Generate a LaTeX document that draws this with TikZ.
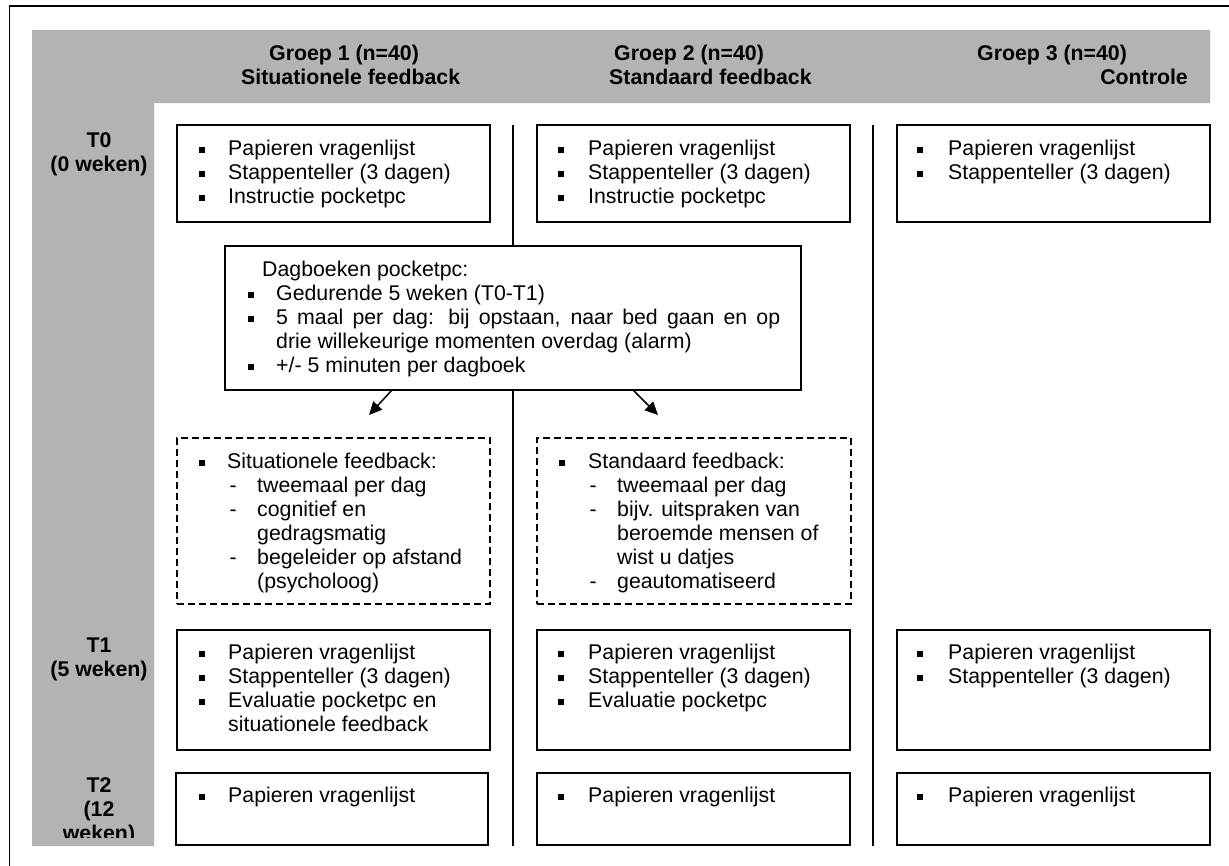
\documentclass[tikz,border=0pt]{standalone}
\usepackage{fontspec}
\setmainfont{Liberation Sans}
\usetikzlibrary{arrows.meta}
\definecolor{hdrgray}{RGB}{179,179,179}
\newcommand{\bulw}[1]{\makebox[#1][l]{\hspace{-0.5pt}\rule[2.5pt]{6pt}{6pt}}}
\newcommand{\dashw}[1]{\makebox[#1][l]{-}}
\tikzset{
  box/.style={draw=black, line width=1.8pt, fill=white, anchor=north west, inner sep=0pt, outer sep=0pt},
  dbox/.style={box, dash pattern=on 7pt off 4pt, line width=1.5pt},
  txt/.style={anchor=base west, inner sep=0pt, font=\fontsize{21.3}{24}\selectfont},
  hdr/.style={anchor=base west, inner sep=0pt, font=\bfseries\fontsize{21.3}{24}\selectfont},
  lbl/.style={anchor=base, inner sep=0pt, font=\bfseries\fontsize{21.3}{24}\selectfont},
  divider/.style={line width=1.8pt},
  arr/.style={line width=1.5pt, -{Triangle[length=13pt,width=12pt]}},
}
\begin{document}
\begin{tikzpicture}[x=1pt,y=-1pt]
\useasboundingbox (0,0) rectangle (1229,865);
% outer frame
\draw[line width=1.8pt] (9.5,880) -- (9.5,6) -- (1240,6);
% gray header band and time column
\fill[hdrgray] (32,30) -- (1210,30) -- (1210,103) -- (154,103) -- (154,846) -- (32,846) -- cycle;
% header texts
\node[hdr] (h1a) at (269,60) {Groep 1 (n=40)};
\node[hdr] (h1b) at (241,84) {Situationele feedback};
\node[hdr] (h2a) at (614,60) {Groep 2 (n=40)};
\node[hdr] (h2b) at (609,84) {Standaard feedback};
\node[hdr] (h3a) at (977,60) {Groep 3 (n=40)};
\node[hdr, anchor=base east] (h3b) at (1188,84) {Controle};
% row labels
\node[lbl] (r0) at (99,147) {\parbox[t]{120pt}{\centering T0\\(0 weken)}};
\node[lbl] (r1) at (99,652) {\parbox[t]{120pt}{\centering T1\\(5 weken)}};
\begin{scope}
  \clip (32,760) rectangle (154,837);
  \node[lbl] (r2) at (99,792) {\parbox[t]{120pt}{\centering T2\\(12\\weken)}};
\end{scope}
% column dividers
\draw[divider] (513,125) -- (513,846);
\draw[divider] (873,125) -- (873,846);
% T0 row
\node[box, minimum width=313pt, minimum height=97pt] (g1t0) at (177,125) {};
\node[box, minimum width=313pt, minimum height=97pt] (g2t0) at (537,125) {};
\node[box, minimum width=313pt, minimum height=97pt] (g3t0) at (897,125) {};
\node[txt] (x1t0) at (199.5,155) {\parbox[t]{300pt}{\bulw{28.5pt}Papieren vragenlijst\\\bulw{28.5pt}Stappenteller (3 dagen)\\\bulw{28.5pt}Instructie pocketpc}};
\node[txt] (x2t0) at (558.5,155) {\parbox[t]{300pt}{\bulw{29.5pt}Papieren vragenlijst\\\bulw{29.5pt}Stappenteller (3 dagen)\\\bulw{29.5pt}Instructie pocketpc}};
\node[txt] (x3t0) at (917.5,155) {\parbox[t]{300pt}{\bulw{30.5pt}Papieren vragenlijst\\\bulw{30.5pt}Stappenteller (3 dagen)}};
% diary box
\node[box, minimum width=576pt, minimum height=144pt] (dag) at (225,246) {};
\node[txt] (xdag) at (248.5,276) {\parbox[t]{545pt}{\hspace*{13.5pt}Dagboeken pocketpc:\\
\bulw{27.5pt}Gedurende 5 weken (T0-T1)\\
\bulw{27.5pt}\makebox[504pt][s]{5 maal per dag: bij opstaan, naar bed gaan en op}\\
\hspace*{27.5pt}drie willekeurige momenten overdag (alarm)\\
\bulw{27.5pt}+/- 5 minuten per dagboek}};
% arrows
\coordinate (a1s) at (392,390);
\coordinate (a1e) at (369,415);
\coordinate (a2s) at (633,390);
\coordinate (a2e) at (658,415);
\draw[arr] (a1s) -- (a1e);
\draw[arr] (a2s) -- (a2e);
% dashed feedback boxes
\node[dbox, minimum width=313pt, minimum height=166pt] (fb1) at (177,438) {};
\node[dbox, minimum width=314pt, minimum height=166pt] (fb2) at (537,438) {};
\node[txt] (xfb1) at (199.5,468) {\parbox[t]{300pt}{\bulw{27.5pt}Situationele feedback:\\
\hspace*{30pt}\dashw{27.5pt}tweemaal per dag\\
\hspace*{30pt}\dashw{27.5pt}cognitief en\\
\hspace*{57.5pt}gedragsmatig\\
\hspace*{30pt}\dashw{27.5pt}begeleider op afstand\\
\hspace*{57.5pt}(psycholoog)}};
\node[txt] (xfb2) at (559.5,468) {\parbox[t]{300pt}{\bulw{28.5pt}Standaard feedback:\\
\hspace*{30pt}\dashw{27.5pt}tweemaal per dag\\
\hspace*{30pt}\dashw{27.5pt}bijv. uitspraken van\\
\hspace*{57.5pt}beroemde mensen of\\
\hspace*{57.5pt}wist u datjes\\
\hspace*{30pt}\dashw{27.5pt}geautomatiseerd}};
% T1 row
\node[box, minimum width=313pt, minimum height=120pt] (g1t1) at (177,630) {};
\node[box, minimum width=313pt, minimum height=120pt] (g2t1) at (537,630) {};
\node[box, minimum width=313pt, minimum height=120pt] (g3t1) at (897,630) {};
\node[txt] (x1t1) at (199.5,659) {\parbox[t]{300pt}{\bulw{28.5pt}Papieren vragenlijst\\\bulw{28.5pt}Stappenteller (3 dagen)\\\bulw{28.5pt}Evaluatie pocketpc en\\\hspace*{28.5pt}situationele feedback}};
\node[txt] (x2t1) at (558.5,659) {\parbox[t]{300pt}{\bulw{29.5pt}Papieren vragenlijst\\\bulw{29.5pt}Stappenteller (3 dagen)\\\bulw{29.5pt}Evaluatie pocketpc}};
\node[txt] (x3t1) at (917.5,659) {\parbox[t]{300pt}{\bulw{30.5pt}Papieren vragenlijst\\\bulw{30.5pt}Stappenteller (3 dagen)}};
% T2 row
\node[box, minimum width=312pt, minimum height=72pt] (g1t2) at (176,773) {};
\node[box, minimum width=313pt, minimum height=72pt] (g2t2) at (537,773) {};
\node[box, minimum width=313pt, minimum height=72pt] (g3t2) at (897,773) {};
\node[txt] (x1t2) at (199.5,802) {\bulw{28.5pt}Papieren vragenlijst};
\node[txt] (x2t2) at (558.5,802) {\bulw{29.5pt}Papieren vragenlijst};
\node[txt] (x3t2) at (917.5,802) {\bulw{30.5pt}Papieren vragenlijst};
\end{tikzpicture}
\end{document}
